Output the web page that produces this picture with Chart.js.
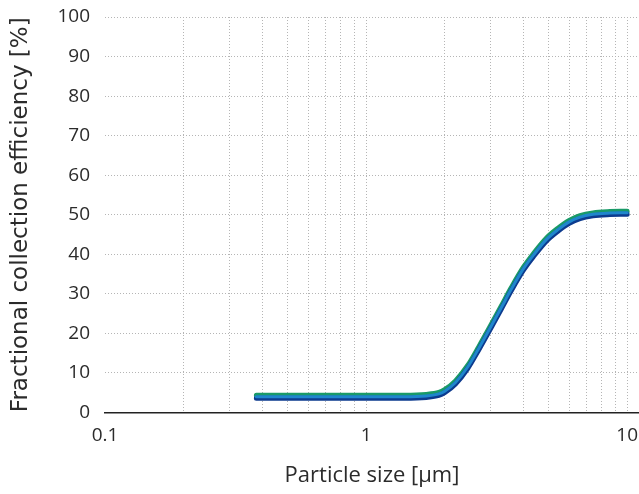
<!DOCTYPE html>
<html>
<head>
<meta charset="utf-8">
<script src="https://cdn.jsdelivr.net/npm/chart.js@4"></script>
<style>
  html, body { margin: 0; padding: 0; background: #fff; }
  #wrap { width: 639px; height: 494px; }
</style>
</head>
<body>
<div id="wrap"><canvas id="effChart"></canvas></div>
<script>
// particle size [µm] and fractional efficiency [%]
const sizes = [0.38, 0.5, 0.7, 1.0, 1.4, 1.7, 1.9, 2.0, 2.2, 2.45, 2.7, 3.0, 3.3, 3.6, 4.0, 4.4, 4.9, 5.4, 6.0, 6.6, 7.4, 8.4, 10];
const efficiency = [4.0, 4.0, 4.0, 4.0, 4.0, 4.2, 4.7, 5.4, 7.6, 11.5, 16.2, 21.6, 26.6, 31.2, 36.3, 40.0, 43.7, 46.1, 48.2, 49.4, 50.1, 50.4, 50.5];

const xTicks = [0.1, 0.2, 0.3, 0.4, 0.5, 0.6, 0.7, 0.8, 0.9, 1, 2, 3, 4, 5, 6, 7, 8, 9, 10];
const xLabels = [0.1, 1, 10];

const points = sizes.map((s, i) => ({ x: s, y: efficiency[i] }));

// the curve is one line drawn as three stacked strokes (green edge, blue core, navy shade)
const shiftLayers = {
  id: 'shiftLayers',
  beforeDatasetDraw(chart, args) {
    chart.ctx.save();
    chart.ctx.translate(0, chart.data.datasets[args.index].shiftY || 0);
  },
  afterDatasetDraw(chart) {
    chart.ctx.restore();
  }
};

const layer = (color, width, shiftY, order) => ({
  data: points,
  borderColor: color,
  borderWidth: width,
  shiftY: shiftY,
  order: order,
  pointRadius: 0,
  fill: false,
  cubicInterpolationMode: 'monotone',
  borderCapStyle: 'round',
  borderJoinStyle: 'round'
});

const txt = '#2b2b2b';

new Chart(document.getElementById('effChart'), {
  type: 'line',
  data: {
    datasets: [
      layer('#1f86cc', 3, 0, 1),
      layer('#0d3b8e', 5, 1.5, 2),
      layer('#199a68', 5, -1.5, 3)
    ]
  },
  plugins: [shiftLayers],
  options: {
    responsive: true,
    maintainAspectRatio: false,
    animation: false,
    layout: { padding: { top: 17, right: 0, bottom: 0, left: 0 } },
    plugins: { legend: { display: false }, tooltip: { enabled: false } },
    scales: {
      x: {
        type: 'logarithmic',
        min: 0.1,
        max: 11.1,
        afterBuildTicks: (scale) => { scale.ticks = xTicks.map(v => ({ value: v })); },
        afterFit: (scale) => {
          scale.height = 81.5;
          scale.paddingLeft = 0;
          scale.paddingRight = 0;
        },
        ticks: {
          autoSkip: false,
          maxRotation: 0,
          padding: 12,
          color: txt,
          font: { family: 'Open Sans', size: 19 },
          callback: (v) => xLabels.includes(v) ? String(v) : ''
        },
        grid: {
          drawTicks: false,
          color: (c) => (c.tick && c.tick.value === 0.1) ? 'rgba(0,0,0,0)' : '#b5b5b5',
          lineWidth: 1
        },
        border: { display: true, color: '#222', width: 1.5, dash: [1, 2] },
        title: {
          display: true,
          text: 'Particle size [μm]',
          color: txt,
          font: { family: 'Open Sans', size: 22 },
          padding: { top: 0, bottom: 5 }
        }
      },
      y: {
        min: 0,
        max: 100,
        afterFit: (scale) => {
          scale.width = 105;
          scale.paddingTop = 0;
          scale.paddingBottom = 0;
        },
        ticks: {
          stepSize: 10,
          padding: 15,
          color: txt,
          font: { family: 'Open Sans', size: 19 }
        },
        grid: { drawTicks: false, color: '#b5b5b5', lineWidth: 1 },
        border: { display: false, dash: [1, 2] },
        title: {
          display: true,
          text: 'Fractional collection efficiency [%]',
          color: txt,
          font: { family: 'DejaVu Sans', size: 23 },
          padding: { top: 7, bottom: 0 }
        }
      }
    }
  }
});
</script>
</body>
</html>
